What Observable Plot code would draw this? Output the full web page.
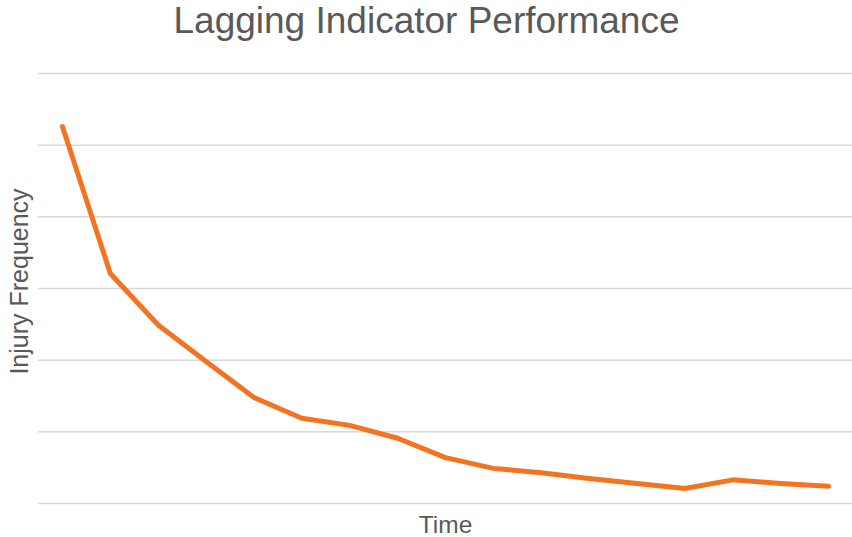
<!DOCTYPE html>
<html>
<head>
<meta charset="utf-8">
<script src="https://cdn.jsdelivr.net/npm/d3@7"></script>
<script src="https://cdn.jsdelivr.net/npm/@observablehq/plot@0.6"></script>
<style>
  html, body { margin: 0; padding: 0; background: #fff; }
  #chart { width: 852px; height: 537px; }
</style>
</head>
<body>
<div id="chart"></div>
<script>
const periods = [1, 2, 3, 4, 5, 6, 7, 8, 9, 10, 11, 12, 13, 14, 15, 16, 17];
const injuryFrequency = [5.26, 3.21, 2.49, 1.98, 1.48, 1.19, 1.09, 0.91, 0.64, 0.49, 0.43, 0.35, 0.28, 0.21, 0.33, 0.28, 0.24];
const gridValues = [0, 1, 2, 3, 4, 5, 6];
const titleText = "Lagging Indicator Performance";
const xLabel = "Time";
const yLabel = "Injury Frequency";

const data = periods.map((p, i) => ({period: p, value: injuryFrequency[i]}));

const font = "'Liberation Sans', Arial, Helvetica, sans-serif";
const textColor = "#595959";

const chart = Plot.plot({
  width: 852,
  height: 537,
  marginTop: 73,
  marginBottom: 34,
  marginLeft: 38,
  marginRight: 0,
  style: {fontFamily: font, background: "#fff", overflow: "visible"},
  x: {type: "point", domain: periods, padding: 0.5, round: false, axis: null},
  y: {domain: [0, 6], axis: null},
  marks: [
    Plot.ruleY(gridValues, {stroke: "#d9d9d9", strokeWidth: 1.5}),
    Plot.line(data, {
      x: "period",
      y: "value",
      stroke: "#f47321",
      strokeWidth: 5,
      strokeLinejoin: "round",
      strokeLinecap: "round"
    }),
    Plot.text([titleText], {
      frameAnchor: "top",
      text: d => d,
      dx: -19,
      dy: -41,
      lineAnchor: "bottom",
      fontSize: 37,
      fill: textColor
    }),
    Plot.text([xLabel], {
      frameAnchor: "bottom",
      text: d => d,
      dy: 29,
      lineAnchor: "bottom",
      fontSize: 24.5,
      fill: textColor
    }),
    Plot.text([yLabel], {
      frameAnchor: "left",
      text: d => d,
      rotate: -90,
      dx: -11,
      dy: -7,
      lineAnchor: "bottom",
      textAnchor: "middle",
      fontSize: 25,
      fill: textColor
    })
  ]
});

document.getElementById("chart").appendChild(chart);
</script>
</body>
</html>
